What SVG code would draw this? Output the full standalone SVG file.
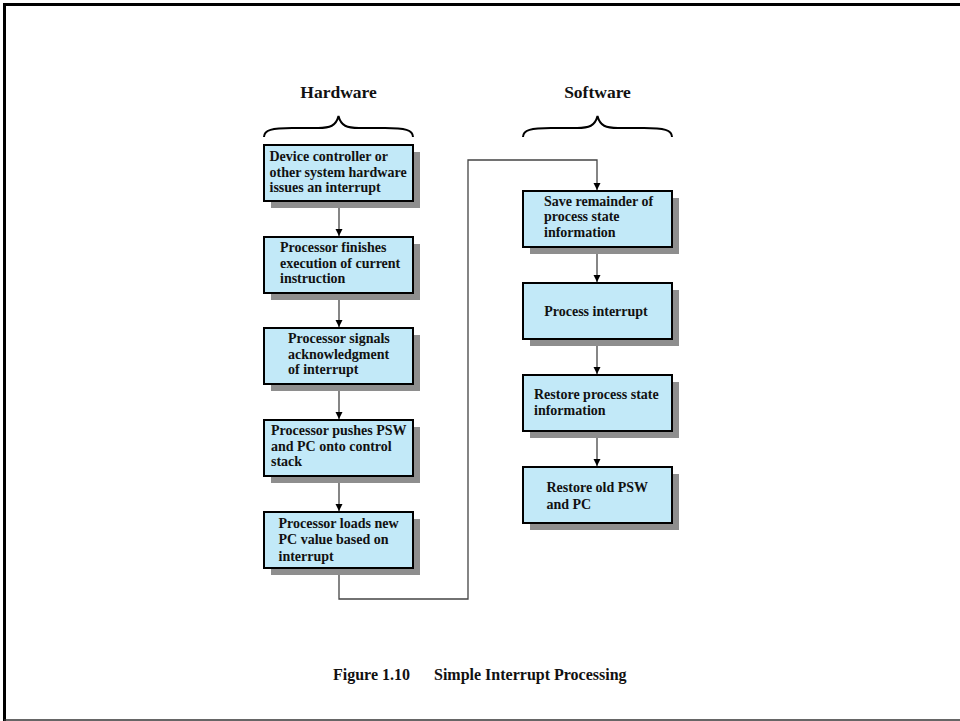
<svg xmlns="http://www.w3.org/2000/svg" width="960" height="721" viewBox="0 0 960 721">
  <style>
    .box { fill: #c2e9f8; stroke: #000; stroke-width: 2; }
    .shadow { fill: #8e8e8e; }
    .t { font-family: "Liberation Serif", "Times New Roman", serif; font-weight: bold; font-size: 14px; fill: #111; }
    .head { font-family: "Liberation Serif", "Times New Roman", serif; font-weight: bold; font-size: 17.5px; fill: #111; }
    .cap { font-family: "Liberation Serif", "Times New Roman", serif; font-weight: bold; font-size: 16px; fill: #111; }
    .conn { fill: none; stroke: #444; stroke-width: 1.3; }
    .brace { fill: none; stroke: #000; stroke-width: 2; }
  </style>
  <defs>
    <marker id="arrow" markerWidth="8" markerHeight="8" refX="7" refY="4" orient="auto" markerUnits="userSpaceOnUse">
      <path d="M0,0.5 L7,4 L0,7.5 Z" fill="#000"/>
    </marker>
  </defs>

  <rect x="0" y="0" width="960" height="721" fill="#fff"/>
  <!-- outer frame -->
  <path d="M4.5,721 V4.5 H960" fill="none" stroke="#000" stroke-width="3"/>
  <line x1="4" y1="720" x2="960" y2="720" stroke="#333" stroke-width="1.5"/>

  <!-- column headings -->
  <g id="hardware-heading">
    <text class="head" x="338.5" y="98" text-anchor="middle">Hardware</text>
    <path class="brace" d="M264,137 C264,130 272,128 292,128 L318,128 C330,128 336,126 338.5,116 C341,126 347,128 359,128 L385,128 C405,128 413,130 413,137"/>
  </g>
  <g id="software-heading">
    <text class="head" x="597.5" y="98" text-anchor="middle">Software</text>
    <path class="brace" d="M523,137 C523,130 531,128 551,128 L577,128 C589,128 595,126 597.5,116 C600,126 606,128 618,128 L644,128 C664,128 672,130 672,137"/>
  </g>

  <!-- connectors -->
  <g id="connectors">
    <path class="conn" d="M339,201 V236" marker-end="url(#arrow)"/>
    <path class="conn" d="M339,293 V327" marker-end="url(#arrow)"/>
    <path class="conn" d="M339,384 V419" marker-end="url(#arrow)"/>
    <path class="conn" d="M339,476 V511" marker-end="url(#arrow)"/>
    <path class="conn" d="M339,568 V599 H468 V160 H597 V190" marker-end="url(#arrow)"/>
    <path class="conn" d="M597,247 V282" marker-end="url(#arrow)"/>
    <path class="conn" d="M597,339 V374" marker-end="url(#arrow)"/>
    <path class="conn" d="M597,431 V466" marker-end="url(#arrow)"/>
  </g>

  <!-- hardware steps -->
  <g id="hw1">
    <rect class="shadow" x="271" y="152" width="149" height="56"/>
    <rect class="box" x="264" y="145" width="149" height="56"/>
    <text class="t" x="269.5" y="161">Device controller or</text>
    <text class="t" x="269.5" y="176.5">other system hardware</text>
    <text class="t" x="269.5" y="192">issues an interrupt</text>
  </g>
  <g id="hw2">
    <rect class="shadow" x="271" y="244" width="149" height="56"/>
    <rect class="box" x="264" y="237" width="149" height="56"/>
    <text class="t" x="280" y="252">Processor finishes</text>
    <text class="t" x="280" y="267.5">execution of current</text>
    <text class="t" x="280" y="283">instruction</text>
  </g>
  <g id="hw3">
    <rect class="shadow" x="271" y="335" width="149" height="56"/>
    <rect class="box" x="264" y="328" width="149" height="56"/>
    <text class="t" x="288" y="343">Processor signals</text>
    <text class="t" x="288" y="358.5">acknowledgment</text>
    <text class="t" x="288" y="374">of interrupt</text>
  </g>
  <g id="hw4">
    <rect class="shadow" x="271" y="427" width="149" height="56"/>
    <rect class="box" x="264" y="420" width="149" height="56"/>
    <text class="t" x="271" y="435">Processor pushes PSW</text>
    <text class="t" x="271" y="450.5">and PC onto control</text>
    <text class="t" x="271" y="466">stack</text>
  </g>
  <g id="hw5">
    <rect class="shadow" x="271" y="519" width="149" height="56"/>
    <rect class="box" x="264" y="512" width="149" height="56"/>
    <text class="t" x="278.5" y="527.5">Processor loads new</text>
    <text class="t" x="278.5" y="544">PC value based on</text>
    <text class="t" x="278.5" y="560.5">interrupt</text>
  </g>

  <!-- software steps -->
  <g id="sw1">
    <rect class="shadow" x="530" y="198" width="149" height="56"/>
    <rect class="box" x="523" y="191" width="149" height="56"/>
    <text class="t" x="544" y="205.5">Save remainder of</text>
    <text class="t" x="544" y="221">process state</text>
    <text class="t" x="544" y="236.5">information</text>
  </g>
  <g id="sw2">
    <rect class="shadow" x="530" y="290" width="149" height="56"/>
    <rect class="box" x="523" y="283" width="149" height="56"/>
    <text class="t" x="596" y="316" text-anchor="middle">Process interrupt</text>
  </g>
  <g id="sw3">
    <rect class="shadow" x="530" y="382" width="149" height="56"/>
    <rect class="box" x="523" y="375" width="149" height="56"/>
    <text class="t" x="534" y="398.5">Restore process state</text>
    <text class="t" x="534" y="415">information</text>
  </g>
  <g id="sw4">
    <rect class="shadow" x="530" y="474" width="149" height="56"/>
    <rect class="box" x="523" y="467" width="149" height="56"/>
    <text class="t" x="546.5" y="492">Restore old PSW</text>
    <text class="t" x="546.5" y="508.5">and PC</text>
  </g>

  <!-- caption -->
  <g id="caption">
    <text class="cap" x="333" y="680">Figure 1.10</text>
    <text class="cap" x="434" y="680">Simple Interrupt Processing</text>
  </g>
</svg>
